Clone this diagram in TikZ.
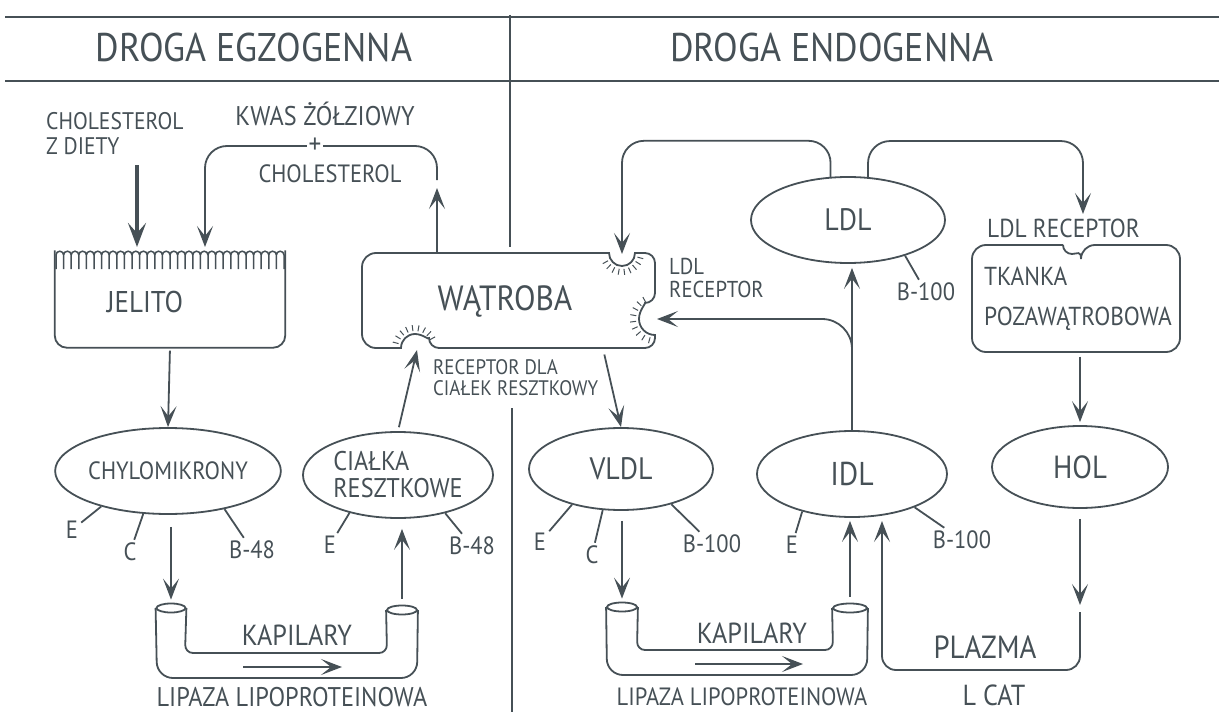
\documentclass[tikz,border=0pt]{standalone}
\usepackage{fontspec}
\setmainfont{PT Sans}[FakeStretch=0.9]
\usetikzlibrary{shapes.geometric,arrows.meta,calc}
\definecolor{pen}{RGB}{70,80,86}
\newcommand\fs[1]{\fontsize{#1}{#1}\selectfont}
\tikzset{
  line/.style={draw=pen, line width=1.8pt},
  arr/.style={line, -{Stealth[length=21pt,width=16pt,inset=10pt]}},
  bigarr/.style={draw=pen, line width=3.2pt, -{Stealth[length=24pt,width=18pt,inset=10pt]}},
  blob/.style={ellipse, line, inner sep=0pt, text=pen, font=\fs{28}},
  lbl/.style={inner sep=1pt, text=pen, font=\fs{24}, align=left},
  ant/.style={inner sep=3pt, text=pen, font=\fs{25}},
  head/.style={text=pen, font=\fs{40}},
  big/.style={text=pen, font=\fs{32}},
  tubeend/.style={ellipse, line, minimum width=29pt, minimum height=9pt, inner sep=0pt},
  tick/.style={draw=pen, line width=1pt},
}
\begin{document}
\begin{tikzpicture}[x=1pt,y=-1pt]
\useasboundingbox (0,0) rectangle (1219,717);
% headers
\draw[line] (5,17) -- (1219,17);
\draw[line] (5,81) -- (1219,81);
\draw[line] (510,15) -- (510,247);
\draw[line] (512,408) -- (512,712);
\node[head] (exo) at (254,48) {DROGA EGZOGENNA};
\node[head] (endo) at (832,48) {DROGA ENDOGENNA};

% droga egzogenna
\node[lbl, anchor=west, font=\fs{24}, align=left] (diet) at (45,134) {CHOLESTEROL\\[1pt]Z DIETY};
\node[lbl, font=\fs{27}] (bile) at (325,114) {KWAS ŻÓŁZIOWY};
\node[lbl, inner sep=1.5pt, font=\fs{28}] (plus) at (315,146) {+};
\node[lbl, font=\fs{25}] (bilechol) at (330,174) {CHOLESTEROL};
\coordinate (dietout) at (137,165);
\coordinate (dietin) at (137,247);
\coordinate (bileout) at (437,180);
\coordinate (bileend) at (437,188);
\coordinate (jelin) at (205,247);
\draw[bigarr] (dietout) -- (dietin);
\draw[arr, rounded corners=22] (bileout) |- (plus) -| (jelin);

\node[minimum width=230pt, minimum height=97pt, inner sep=0pt] (jelito) at (170,299) {};
\node[big, font=\fs{30}] (jelitotxt) at (145,302) {JELITO};
\draw[line, rounded corners=12] (jelito.north west) -- (jelito.south west) -- (jelito.south east) -- (jelito.north east);
\draw[line, line width=1.5pt] (56,269) \foreach \i in {0,...,29} { -- ({56+\i*7.6},255) arc[start angle=180,end angle=360,radius=3.8] -- ({63.6+\i*7.6},269) };

\node[big, font=\fs{35}, minimum width=293pt, minimum height=95pt] (watroba) at (505,301) {WĄTROBA};
\draw[line] (375,253) -- (609,253) arc[start angle=180,end angle=0,radius=13] -- (643,253) [rounded corners=10] -- (655,253) -- (655,303) [sharp corners] arc[start angle=270,end angle=90,radius=16] [rounded corners=10] -- (655,348) -- (429,348) [sharp corners] arc[start angle=360,end angle=180,radius=14] [rounded corners=14] -- (362,348) -- (362,253) -- (375,253);
\foreach \a in {15,32,...,165} \draw[tick] (622,253) ++(\a:16) -- ++(\a:6);
\foreach \a in {105,122,...,255} \draw[tick] (655,319) ++(\a:19) -- ++(\a:6);
\foreach \a in {195,212,...,345} \draw[tick] (415,348) ++(\a:17) -- ++(\a:6);
\node[lbl, anchor=west, font=\fs{23}] (ldlrec) at (668,278) {LDL\\RECEPTOR};
\node[lbl, anchor=west, font=\fs{21}] (remrec) at (432,378) {RECEPTOR DLA\\CIAŁEK RESZTKOWY};
\draw[arr] ([xshift=-68pt]watroba.north) -- (bileend);

\node[blob, font=\fs{25}, minimum width=186pt, minimum height=86pt] (chylo) at (168,471) {CHYLOMIKRONY};
\node[blob, font=\fs{27}, minimum width=190pt, minimum height=86pt, align=left] (ciala) at (398,475) {CIAŁKA\\RESZTKOWE};
\node[ant] (chyE) at (72,530) {E};
\node[ant] (chyC) at (130,552) {C};
\node[ant] (chyB) at (252,550) {B-48};
\node[ant] (ciaE) at (330,545) {E};
\node[ant] (ciaB) at (472,546) {B-48};
\draw[line] (chylo.208) -- (chyE);
\draw[line] (chylo.240) -- (chyC);
\draw[line] (chylo.326) -- (chyB);
\draw[line] (ciala.218) -- (ciaE);
\draw[line] (ciala.321) -- (ciaB);
\draw[arr, shorten <=3pt] (jelito.south) -- (chylo.north);

\node[tubeend] (capLa) at (171,608) {};
\node[tubeend, minimum width=30pt] (capLb) at (402,610) {};
\draw[line, rounded corners=16] (capLa.west) -- (157,678) -- (417,678) -- (capLb.east);
\draw[line, rounded corners=8] (capLa.east) -- (185,653) -- (387,653) -- (capLb.west);
\node[lbl, font=\fs{29}] (kapL) at (297,635) {KAPILARY};
\node[lbl, font=\fs{27}] (lipL) at (292,697) {LIPAZA LIPOPROTEINOWA};
\coordinate (flowLa) at (243,667);
\coordinate (flowLb) at (342,667);
\draw[arr, line width=1.5pt] (flowLa) -- (flowLb);
\coordinate (recB) at (417,350);
\draw[arr, shorten <=12pt, shorten >=3pt] (capLa.north |- chylo.south) -- (capLa.north);
\draw[arr, shorten <=6pt, shorten >=10pt] (capLb.north) -- (capLb.north |- ciala.south);
\draw[arr, shorten <=4pt] (ciala.north) -- (recB);

% droga endogenna
\node[blob, font=\fs{31}, minimum width=184pt, minimum height=82pt] (vldl) at (621,469) {VLDL};
\node[blob, font=\fs{33}, minimum width=190pt, minimum height=86pt] (idl) at (852,474) {IDL};
\node[blob, font=\fs{31}, minimum width=194pt, minimum height=86pt] (ldl) at (848,220) {LDL};
\node[blob, font=\fs{32}, minimum width=176pt, minimum height=82pt] (hol) at (1080,467) {HOL};
\node[ant] (vlE) at (540,542) {E};
\node[ant] (vlC) at (592,555) {C};
\node[ant] (vlB) at (712,544) {B-100};
\node[ant] (idE) at (792,545) {E};
\node[ant] (idB) at (962,540) {B-100};
\node[ant] (ldB) at (926,292) {B-100};
\draw[line] (vldl.216) -- (vlE);
\draw[line] (vldl.246) -- (vlC);
\draw[line] (vldl.325) -- (vlB);
\draw[line] (idl.217) -- (idE);
\draw[line] (idl.332) -- (idB);
\draw[line] (ldl.328) -- (ldB);
\draw[arr, shorten <=6pt] ([xshift=98pt]watroba.south) -- (vldl.north);

\node[tubeend, minimum width=30pt] (capRa) at (622,607) {};
\node[tubeend, minimum width=34pt] (capRb) at (850,608) {};
\draw[line, rounded corners=16] (capRa.west) -- (607,675) -- (867,675) -- (capRb.east);
\draw[line, rounded corners=8] (capRa.east) -- (637,650) -- (833,650) -- (capRb.west);
\node[lbl, font=\fs{29}] (kapR) at (752,633) {KAPILARY};
\node[lbl, font=\fs{25}] (lipR) at (742,697) {LIPAZA LIPOPROTEINOWA};
\coordinate (flowRa) at (695,664);
\coordinate (flowRb) at (803,664);
\draw[arr, line width=1.5pt] (flowRa) -- (flowRb);
\draw[arr, shorten <=10pt, shorten >=3pt] (capRa.north |- vldl.south) -- (capRa.north);
\draw[arr, shorten <=6pt, shorten >=3pt] (capRb.north) -- (capRb.north |- idl.south);

\coordinate (recT) at (622,254);
\coordinate (recS) at (657,319);
\coordinate (branch) at (852,360);
\draw[arr, shorten >=4pt] (idl.north) -- (ldl.south -| idl.north);
\draw[arr, rounded corners=30] (branch) |- (recS);
\draw[arr, rounded corners=22] (ldl.112) -- ++(0,-36) -| (recT);

\node[minimum width=208pt, minimum height=107pt, inner sep=0pt, text=pen, align=left, font=\fontsize{26}{40}\selectfont] (tkanka) at (1078,299) {TKANKA\\POZAWĄTROBOWA};
\draw[line] (1063,245) [rounded corners=14] -- (972,245) -- (972,352) -- (1180,352) -- (1180,245) -- (1081,245) [sharp corners] arc[start angle=0,end angle=180,radius=9];
\node[lbl, anchor=west, font=\fs{26}] (tkrec) at (986,228) {LDL RECEPTOR};
\coordinate (tkin) at (1083,214);
\draw[arr, rounded corners=22] (ldl.65) -- ++(0,-36) -| (tkin);
\draw[arr, shorten <=4pt, shorten >=3pt] (hol.north |- tkanka.south) -- (hol.north);

\coordinate (holout) at (1080,605);
\coordinate (plazin) at (1080,612);
\coordinate (idlin) at (882,521);
\draw[arr, shorten <=10pt] (hol.south) -- (holout);
\draw[arr, rounded corners=14] (plazin) -- (1080,670) -| (idlin);
\node[lbl, font=\fs{32}] (plazma) at (985,647) {PLAZMA};
\node[lbl, font=\fs{29}] (lcat) at (994,695) {L CAT};
\end{tikzpicture}
\end{document}
